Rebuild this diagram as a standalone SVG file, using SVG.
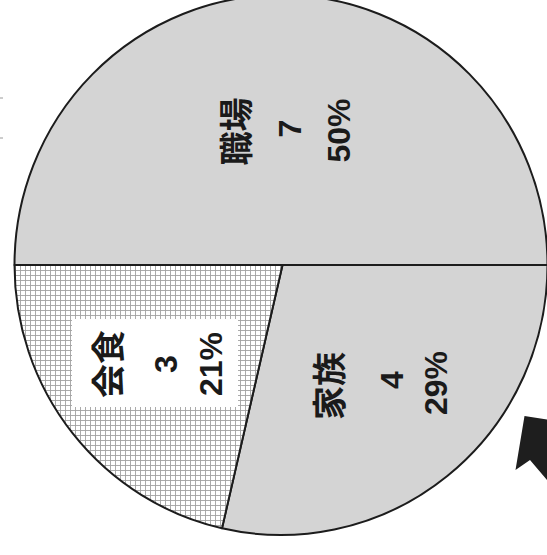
<svg xmlns="http://www.w3.org/2000/svg" width="547" height="555" viewBox="0 0 547 555">
  <style>
    .slice { stroke: #1c1c1c; stroke-width: 2; stroke-linejoin: round; }
    .gray { fill: #d4d4d4; }
    .cjk { font-family: "Liberation Sans", "Noto Sans CJK JP", sans-serif; font-weight: bold; font-size: 34px; fill: #1a1a1a; text-anchor: middle; }
    .num { font-family: "Liberation Sans", "Noto Sans CJK JP", sans-serif; font-weight: bold; font-size: 32px; fill: #1a1a1a; text-anchor: middle; }
  </style>
  <defs>
    <pattern id="grid" x="0" y="0" width="5" height="5" patternUnits="userSpaceOnUse">
      <rect width="5" height="5" fill="#ffffff"/>
      <path d="M0,0.5 H5 M0.5,0 V5" stroke="#a2a2a2" stroke-width="0.9" fill="none"/>
    </pattern>
  </defs>
  <rect width="547" height="555" fill="#ffffff"/>
  <g id="ticks" stroke="#9a9a9a" stroke-width="1">
    <line x1="0" y1="98" x2="3" y2="98"/>
    <line x1="0" y1="138" x2="3" y2="138"/>
  </g>
  <g id="node-shokuba">
    <path class="slice gray" d="M14.5,265 A266.5,270 0 0 1 547.5,265 L282.5,265 Z"/>
    <text class="cjk" transform="translate(249,131.5) rotate(-90)">職場</text>
    <text class="num" transform="translate(300.5,128.5) rotate(-90)">7</text>
    <text class="num" transform="translate(350,130.5) rotate(-90)">50%</text>
  </g>
  <g id="node-kazoku">
    <path class="slice gray" d="M282.5,265 L547.5,265 A266.5,270 0 0 1 222,528.3 Z"/>
    <text class="cjk" transform="translate(341.5,386) rotate(-90)">家族</text>
    <text class="num" transform="translate(402.5,380) rotate(-90)">4</text>
    <text class="num" transform="translate(446.5,383) rotate(-90)">29%</text>
  </g>
  <g id="node-kaishoku">
    <path class="slice" fill="url(#grid)" d="M282.5,265 L222,528.3 A266.5,270 0 0 1 14.5,265 Z"/>
    <rect x="72" y="319" width="166" height="88" fill="#ffffff"/>
    <text class="cjk" transform="translate(120.5,364) rotate(-90)">会食</text>
    <text class="num" transform="translate(176.5,364) rotate(-90)">3</text>
    <text class="num" transform="translate(222,364) rotate(-90)">21%</text>
  </g>
  <g id="connectors">
    <path id="arrow" d="M524.5,416 L547,419.5 L547,480 L530,460 L515.5,470 Z" fill="#1e1e1e"/>
  </g>
</svg>
